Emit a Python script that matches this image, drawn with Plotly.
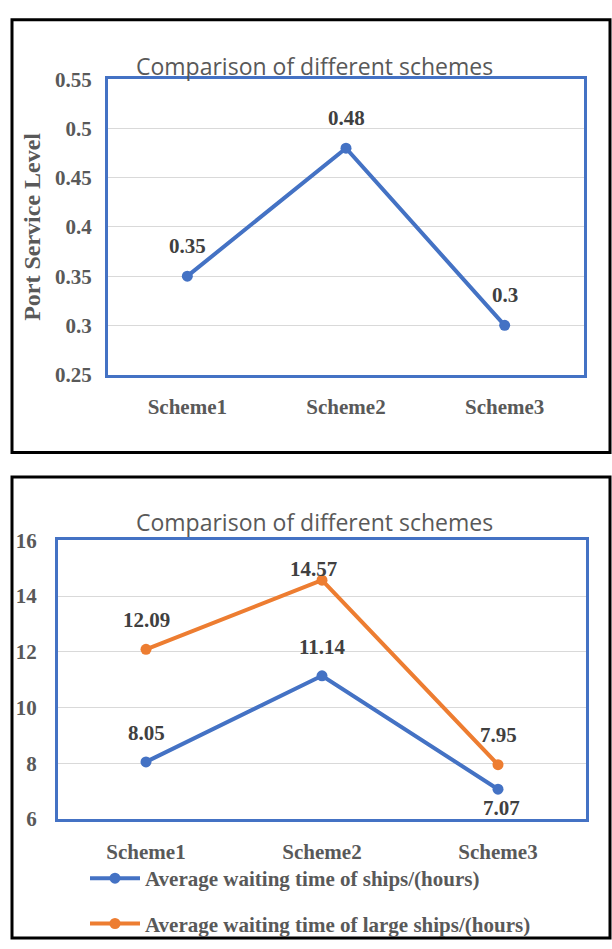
import plotly.graph_objects as go

# ---- data ----
schemes = ["Scheme1", "Scheme2", "Scheme3"]
service_level = [0.35, 0.48, 0.30]
wait_all = [8.05, 11.14, 7.07]
wait_large = [12.09, 14.57, 7.95]

service_ticks = [0.25, 0.30, 0.35, 0.40, 0.45, 0.50, 0.55]
service_ticktext = ["0.25", "0.3", "0.35", "0.4", "0.45", "0.5", "0.55"]
wait_ticks = [6, 8, 10, 12, 14, 16]

BLUE = "#4472C4"
ORANGE = "#ED7D31"
GRAY = "#595959"
DARK = "#404040"
GRID = "#D9D9D9"
SERIF = "Liberation Serif"
SANS = "Open Sans"

W, H = 612, 949


def px(x):
    return x / W


def py(y):
    return 1 - y / H


fig = go.Figure()

fig.add_trace(go.Scatter(
    x=schemes, y=service_level, mode="lines+markers",
    line=dict(color=BLUE, width=4), marker=dict(size=11, color=BLUE),
    xaxis="x", yaxis="y", showlegend=False, name="Port Service Level",
))
fig.add_trace(go.Scatter(
    x=schemes, y=wait_all, mode="lines+markers",
    line=dict(color=BLUE, width=4), marker=dict(size=11, color=BLUE),
    xaxis="x2", yaxis="y2", legendgroup="a",
    name="Average waiting time of ships/(hours)",
))
fig.add_trace(go.Scatter(
    x=schemes, y=wait_large, mode="lines+markers",
    line=dict(color=ORANGE, width=4), marker=dict(size=11, color=ORANGE),
    xaxis="x2", yaxis="y2", legendgroup="b",
    name="Average waiting time of large ships/(hours)",
))

# value labels
annotations = []
def add_labels(xs, ys, xref, yref, fmt, shifts):
    for xv, yv, (dx, dy) in zip(xs, ys, shifts):
        annotations.append(dict(
            x=xv, y=yv, xref=xref, yref=yref, text=fmt(yv),
            showarrow=False, xshift=dx, yshift=dy, yanchor="middle",
            font=dict(family=SERIF, size=21, color=DARK, weight="bold"),
        ))

fmt = lambda v: f"{v:g}"
add_labels(schemes, service_level, "x", "y", fmt, [(0, 30), (0, 30), (0, 30)])
add_labels(schemes, wait_all, "x2", "y2", fmt, [(0, 29), (0, 29), (3, -19)])
add_labels(schemes, wait_large, "x2", "y2", fmt, [(0, 29), (-9, 11), (0, 30)])

# titles
for ty in (55, 523):
    annotations.append(dict(
        x=px(314), y=py(ty), xref="paper", yref="paper",
        text="Comparison of different schemes", showarrow=False,
        xanchor="center", yanchor="middle",
        font=dict(family=SANS, size=23, color=GRAY),
    ))

tick_font = dict(family=SERIF, size=21, color=GRAY, weight="bold")
box = dict(showline=True, linecolor=BLUE, linewidth=3, mirror=True,
           ticks="", zeroline=False)

fig.update_layout(
    width=W, height=H,
    margin=dict(l=0, r=0, t=0, b=0),
    paper_bgcolor="white", plot_bgcolor="white",
    annotations=annotations,
    xaxis=dict(domain=[px(108), px(584)], anchor="y", type="category",
               range=[-0.5, 2.5], showgrid=False, tickfont=tick_font,
               ticklabelstandoff=11, **box),
    yaxis=dict(domain=[py(372), py(69)], anchor="x", range=[0.25, 0.55],
               tickvals=service_ticks, ticktext=service_ticktext,
               showgrid=True, gridcolor=GRID, gridwidth=1,
               tickfont=tick_font, ticklabelstandoff=9,
               title=dict(text="<b>Port Service Level</b>", standoff=8,
                          font=dict(family=SERIF, size=24, color=GRAY)),
               **box),
    xaxis2=dict(domain=[px(58), px(586)], anchor="y2", type="category",
                range=[-0.5, 2.5], showgrid=False, tickfont=tick_font,
                ticklabelstandoff=12, **box),
    yaxis2=dict(domain=[py(828), py(542)], anchor="x2", range=[6, 16],
                tickvals=wait_ticks, showgrid=True, gridcolor=GRID,
                gridwidth=1, tickfont=tick_font, ticklabelstandoff=14,
                **box),
    legend=dict(x=px(85), y=py(868), xanchor="left", yanchor="top",
                traceorder="grouped", tracegroupgap=15, itemwidth=50,
                font=dict(family=SERIF, size=21, color=GRAY, weight="bold"),
                bgcolor="rgba(0,0,0,0)"),
    shapes=[
        dict(type="rect", xref="paper", yref="paper",
             x0=px(12), x1=px(610), y0=py(452), y1=py(8),
             line=dict(color="black", width=3)),
        dict(type="rect", xref="paper", yref="paper",
             x0=px(12), x1=px(610), y0=py(950), y1=py(477),
             line=dict(color="black", width=3)),
    ],
)

fig.write_html("out.html")
